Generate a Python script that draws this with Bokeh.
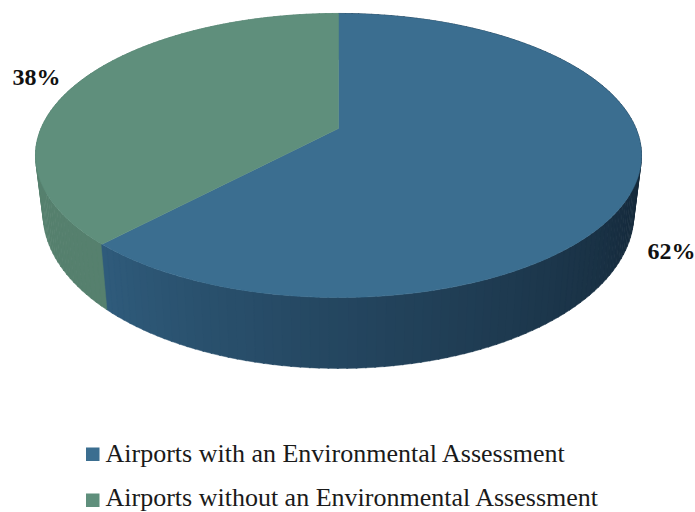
import numpy as np
from bokeh.core.properties import value
from bokeh.embed import file_html
from bokeh.models import Range1d
from bokeh.plotting import figure
from bokeh.resources import INLINE

categories = ["Airports with an Environmental Assessment",
              "Airports without an Environmental Assessment"]
shares = [62, 38]
share_labels = ["62%", "38%"]
top_colors = ["#3B6E90", "#5F8F7C"]

W, H = 695, 512
CX = 338.0

# Perspective projection of the upper and lower discs of the pie
TOP = dict(y0=128.0, a=297.5, b=136.9, k=0.19)
BASE = dict(y0=184.0, a=290.0, b=149.0, k=0.19)


def project(theta, disc):
    u, v = np.sin(theta), np.cos(theta)
    d = 1 + disc["k"] * v
    return CX + disc["a"] * u / d, disc["y0"] - disc["b"] * v / d


def blend(c0, c1, t):
    a = np.array([int(c0[i:i + 2], 16) for i in (1, 3, 5)])
    b = np.array([int(c1[i:i + 2], 16) for i in (1, 3, 5)])
    r = np.round(a + (b - a) * t).astype(int)
    return "#%02x%02x%02x" % tuple(r)


p = figure(width=W, height=H, x_range=Range1d(0, W), y_range=Range1d(H, 0),
           output_backend="svg", toolbar_location=None, min_border=0,
           outline_line_color=None, background_fill_color="white",
           border_fill_color="white")
p.xaxis.visible = False
p.yaxis.visible = False
p.grid.visible = False

edges = np.cumsum([0] + shares) / sum(shares) * 2 * np.pi

# Side wall, built from thin strips so the shading can run along the rim
wall_x, wall_y, wall_c = [], [], []
steps = 240
for i in range(steps):
    t0, t1 = 2 * np.pi * i / steps, 2 * np.pi * (i + 1.15) / steps
    mid = (t0 + t1) / 2
    if mid < edges[1]:
        f = np.clip((mid - np.radians(100)) / (edges[1] - np.radians(100)), 0, 1)
        col = blend("#15293A", "#2F5B7B", f ** 1.25)
    else:
        col = "#56806E"
    ts = np.array([t0, t1])
    tx, ty = project(ts, TOP)
    bx, by = project(ts[::-1], BASE)
    wall_x.append(np.r_[tx, bx])
    wall_y.append(np.r_[ty, by])
    wall_c.append(col)
p.patches(wall_x, wall_y, fill_color=wall_c, line_color=wall_c, line_width=0.5)

# Upper face of each slice
for start, end, col in zip(edges[:-1], edges[1:], top_colors):
    ts = np.linspace(start, end, 180)
    x, y = project(ts, TOP)
    p.patch(np.r_[CX, x], np.r_[TOP["y0"], y], fill_color=col, line_color=col, line_width=0.5)

# Percentage labels
p.text([647, 12], [250, 76], text=share_labels, text_font=value("Liberation Serif"),
       text_font_style="bold", text_font_size="24px", text_color="#111111",
       text_align="left", text_baseline="alphabetic")

# Legend
swatch_top = [447, 493]
label_y = [453, 496.5]
swatch_size = 13.5
for cat, col, y, ly in zip(categories, top_colors, swatch_top, label_y):
    p.quad(left=[85.5], right=[85.5 + swatch_size], top=[y], bottom=[y + swatch_size],
           fill_color=col, line_color=None)
    p.text([105], [ly], text=[cat], text_font=value("Liberation Serif"),
           text_font_size="26px", text_color="#1a1a1a",
           text_align="left", text_baseline="alphabetic")

open("out.html", "w").write(file_html(p, INLINE))
